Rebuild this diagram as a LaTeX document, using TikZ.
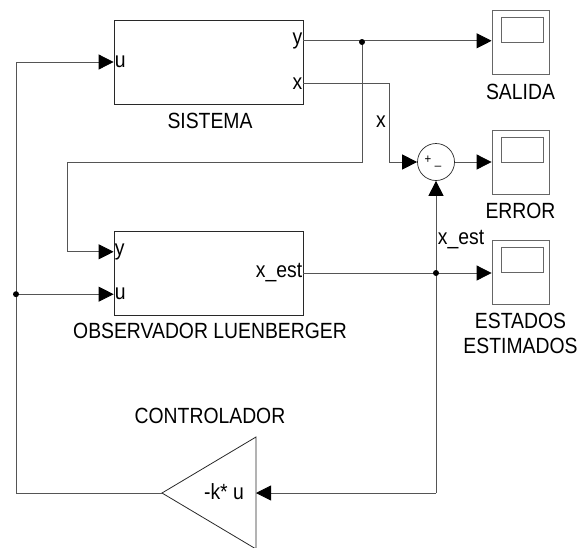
\documentclass[tikz,border=0pt]{standalone}
\usepackage{fontspec}
\setmainfont{Liberation Sans}[FakeStretch=0.88]
\usetikzlibrary{arrows.meta,positioning,calc}
\definecolor{wire}{RGB}{85,85,85}
\definecolor{boxline}{RGB}{40,40,40}
\tikzset{
  block/.style={draw=boxline,line width=0.8pt,minimum width=189pt,minimum height=84pt,inner sep=0pt},
  scope/.style={draw=black!60,line width=0.8pt,minimum width=57pt,minimum height=64pt,inner sep=0pt},
  screen/.style={draw=black!60,line width=0.8pt,minimum width=42pt,minimum height=25pt,inner sep=0pt},
  sumnode/.style={circle,draw=boxline,line width=0.7pt,minimum size=37pt,inner sep=0pt},
  port/.style={inner sep=1pt},
  arr/.style={-{Triangle[length=15pt,width=15pt,color=black]},draw=wire,line width=0.8pt},
  dot/.style={circle,fill=black,inner sep=0pt,minimum size=6pt}
}
\begin{document}
\begin{tikzpicture}[x=1pt,y=-1pt,font=\fontsize{22}{25}\selectfont]
\useasboundingbox (0,0) rectangle (579,547);
\node[block] (sis) at (208.5,62) {};
\node[block] (obs) at (208.5,273) {};
\node (sislbl) at (210,121) {SISTEMA};
\node (obslbl) at (210,331) {OBSERVADOR LUENBERGER};
\coordinate (sis-u) at (sis.west);
\coordinate (sis-y) at ($(sis.north east)!0.25!(sis.south east)$);
\coordinate (sis-x) at ($(sis.north east)!0.75!(sis.south east)$);
\coordinate (obs-y) at ($(obs.north west)!0.25!(obs.south west)$);
\coordinate (obs-u) at ($(obs.north west)!0.75!(obs.south west)$);
\coordinate (obs-x) at (obs.east);
\node[port,anchor=west] at (sis-u) {u};
\node[port,anchor=east] at (sis-y) {y};
\node[port,anchor=east] at (sis-x) {x};
\node[port,anchor=west] at (obs-y) {y};
\node[port,anchor=west] at (obs-u) {u};
\node[port,anchor=east] at (obs-x) {x\_est};

\node[scope] (sal) at (520.5,42) {};
\node[screen] at ($(sal.north)+(1.5,20.5)$) {};
\node[below=6pt of sal] (sallbl) {SALIDA};
\node[scope] (err) at (520.5,162) {};
\node[screen] at ($(err.north)+(1.5,20.5)$) {};
\node[below=5pt of err] (errlbl) {ERROR};
\node[scope] (est) at (520.5,272) {};
\node[screen] at ($(est.north)+(1.5,20.5)$) {};
\node[below=5pt of est,align=center,font=\fontsize{22}{25}\selectfont] (estlbl) {ESTADOS\\ESTIMADOS};

\node[sumnode] (sum) at (436,162) {};
\node[font=\fontsize{13}{13}\selectfont] at (428,160) {+};
\node[font=\fontsize{13}{13}\selectfont] at (438,166) {\_};

\draw[draw=boxline,line width=0.8pt] (162,493) -- (256,437) -- (256,549) -- cycle;
\node (gain) at (224,492) {-k* u};
\coordinate (g-in) at (256,493);
\coordinate (g-out) at (162,493);

\coordinate (yj) at (362,42);
\coordinate (ybend) at (67,162);
\coordinate (xdown) at (389,162);
\coordinate (xj) at (sum |- obs-x);
\coordinate (xbot) at (436,493);
\coordinate (ubot) at (16,493);
\coordinate (uj) at (ubot |- obs-u);

\draw[arr] (sis-y) -- (sal.west |- sis-y);
\draw[arr] (yj) |- (ybend) |- (obs-y);
\draw[arr] (sis-x) -| (xdown) -- (sum.west);
\node at (381,122) {x};
\draw[arr] (sum) -- (err);
\draw[arr] (obs-x) -- (est.west |- obs-x);
\draw[arr] (xbot) -- (sum.south);
\node at (461,240) {x\_est};
\draw[arr] (xbot) -- (g-in);
\draw[arr] (g-out) -- (ubot) |- (sis-u);
\draw[arr] (uj) -- (obs-u);
\node (ctrllbl) at (210,416) {CONTROLADOR};
\node[dot] at (yj) {};
\node[dot] at (xj) {};
\node[dot] at (uj) {};
\end{tikzpicture}
\end{document}
